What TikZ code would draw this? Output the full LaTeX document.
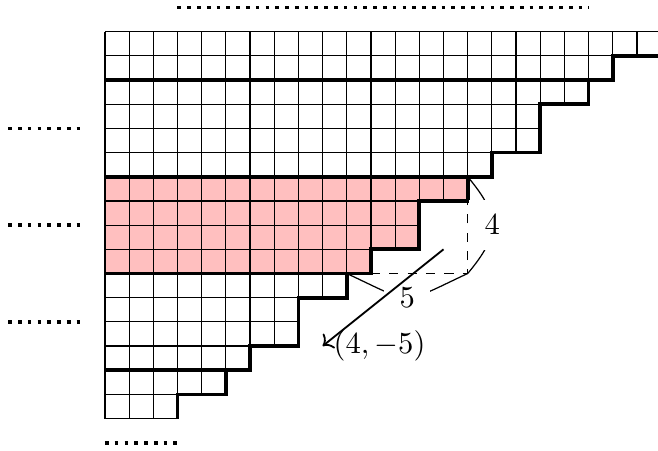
\documentclass[tikz,border=0pt]{standalone}
\usepackage{amsmath, amssymb}
\usetikzlibrary{arrows.meta}

\begin{document}
\begin{tikzpicture}[>=To, x=0.278cm, y=0.278cm]
	
	% ================= 1. 样式 =================
	\tikzset{
		rim/.style={very thick},
		dotrow/.style={very thick, dotted},
		num/.style={fill=white, inner sep=5pt}
	}
	
	\useasboundingbox (-4.34, 1.31) rectangle (22.87, -17.30);
	\clip (-4.34, 1.31) rectangle (22.87, -17.30);
	
	% ================= 2. 阴影块 (第 6--9 行) =================
	\fill[red!25] (0,-6) -- (15,-6) -- (15,-7) -- (13,-7) -- (13,-9)
	-- (11,-9) -- (11,-10) -- (0,-10) -- cycle;
	
	% ================= 3. 网格 =================
	% 横线: 第 b 条线 / 长度
	\foreach \b/\len in {0/23, 1/23, 2/21, 3/20, 4/18, 5/18, 6/16, 7/15, 8/13,
		9/13, 10/11, 11/10, 12/8, 13/8, 14/6, 15/5, 16/3}
	\draw (0,-\b) -- (\len,-\b);
	% 竖线: 行号 / 行长
	\foreach \r/\len in {0/23, 1/21, 2/20, 3/18, 4/18, 5/16, 6/15, 7/13,
		8/13, 9/11, 10/10, 11/8, 12/8, 13/6, 14/5, 15/3}
	\foreach \k in {0,...,\len}
	\draw (\k,-\r) -- (\k,-\r-1);
	
	% ================= 4. 阶梯边界与分块粗线 =================
	\draw[rim] (23,-1) -- (21,-1) -- (21,-2) -- (20,-2) -- (20,-3) -- (18,-3)
	-- (18,-5) -- (16,-5) -- (16,-6) -- (15,-6) -- (15,-7) -- (13,-7)
	-- (13,-9) -- (11,-9) -- (11,-10) -- (10,-10) -- (10,-11) -- (8,-11)
	-- (8,-13) -- (6,-13) -- (6,-14) -- (5,-14) -- (5,-15) -- (3,-15) -- (3,-16);
	\foreach \r/\len in {2/21, 6/16, 10/11, 14/6}
	\draw[rim] (0,-\r) -- (\len,-\r);
	
	% ================= 5. 省略号 =================
	\draw[dotrow] (3,1) -- (20,1);
	\foreach \y in {4, 8, 12}
	\draw[dotrow] (-4,-\y) -- (-1,-\y);
	\draw[dotrow] (0,-17) -- (3,-17);
	
	% ================= 6. 高 4、宽 5 与法向量 =================
	\coordinate (A) at (15,-6);  % 阴影块右上角
	\coordinate (B) at (15,-10);
	\coordinate (C) at (10,-10);
	\coordinate (D) at (11,-10);
	\coordinate (E) at (15,-7);
	\draw (A) to[bend left=40, looseness=1.35] node[num] (h) {$4$} (B);
	\draw (C) to[bend right=25, looseness=1.6] node[num] (w) {$5$} (B);
	\draw[dashed] (D) -- (B) -- (E);
	
	\coordinate (P) at (14,-9);
	\coordinate (Q) at (9,-13);
	\draw[->, semithick] (P) -- (Q) node[right] (n) {$(4,-5)$};
	
\end{tikzpicture}
\end{document}
